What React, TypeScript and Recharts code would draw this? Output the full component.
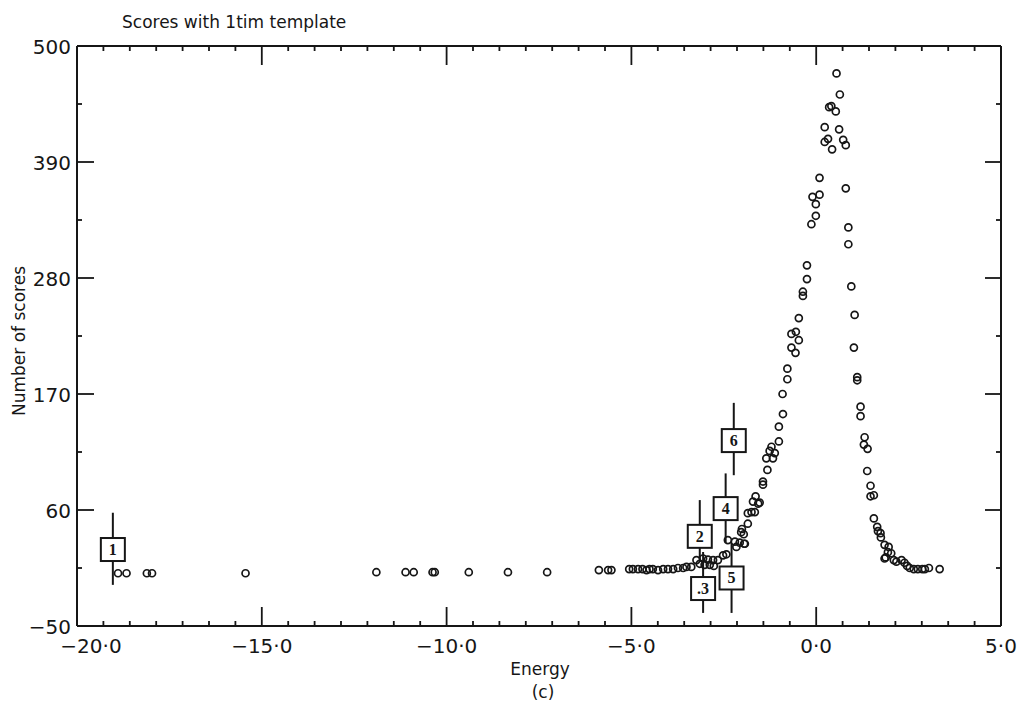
import { ScatterChart, Scatter, XAxis, YAxis, ErrorBar } from "recharts";

const FONT = "'DejaVu Sans', sans-serif";
const INK = "#161616";

// axis ticks
const xMajorTicks = [-20, -15, -10, -5, 0, 5];
const xTickLabels = ["−20·0", "−15·0", "−10·0", "−5·0", "0·0", "5·0"];
const yMajorTicks = [500, 390, 280, 170, 60, -50];
const yTickLabels = ["500", "390", "280", "170", "60", "−50"];
const yMinorTicks = [445, 335, 225, 115, 5];

// flat left tail of the distribution
const tailEnergy = [
  -18.89, -18.66, -18.11, -17.97, -15.44, -11.9, -11.11, -10.89, -10.38, -10.32,
  -9.4, -8.34, -7.28, -5.88, -5.63, -5.54, -5.06, -4.96, -4.82, -4.7,
  -4.59, -4.51, -4.42, -4.28, -4.14, -4.01, -3.87, -3.74, -3.6, -3.51,
];
const tailCount = [
  0, 0, 0, 0, 0, 1, 1, 1, 1, 1,
  1, 1, 1, 3, 3, 3, 4, 4, 4, 4,
  3, 4, 4, 3, 4, 4, 4, 5, 5, 6,
];

// rising flank
const riseEnergy = [
  -3.38, -3.24, -3.15, -3.06, -3.02, -2.93, -2.88, -2.79, -2.77, -2.66,
  -2.52, -2.43, -2.39, -2.2, -2.16, -2.07, -2.03, -2.01, -1.96, -1.95,
  -1.93, -1.85, -1.85, -1.75, -1.71, -1.66, -1.64, -1.57, -1.53, -1.44,
  -1.44, -1.35, -1.32, -1.26, -1.21, -1.17, -1.12, -1.01, -1.01, -0.91,
  -0.9, -0.78, -0.78, -0.67, -0.67, -0.56, -0.55, -0.47, -0.47, -0.36,
  -0.36, -0.25, -0.25, -0.13, -0.1, -0.01, -0.01, 0.09, 0.09,
];
const riseCount = [
  6, 12.5, 9, 14, 8, 13, 8, 12.5, 7, 12.5,
  17, 18, 31.5, 30, 25, 29, 39, 42, 37, 28,
  28, 47, 57, 58, 68, 58, 73, 66, 67, 87,
  84, 109, 98, 116, 120, 109, 114, 125, 139, 170,
  151, 194, 184, 227, 214, 209, 229, 221, 242, 263,
  267, 279, 292, 331, 357, 339, 350, 359, 375,
];

// top of the peak
const peakEnergy = [0.23, 0.23, 0.32, 0.43, 0.35, 0.41, 0.53, 0.55, 0.64, 0.62, 0.73, 0.8, 0.8];
const peakCount = [409, 423, 412, 402, 442, 443, 438, 474, 454, 421, 411, 406, 365];

// falling flank
const fallEnergy = [
  0.87, 0.87, 0.95, 1.04, 1.02, 1.11, 1.11, 1.2, 1.2, 1.29,
  1.31, 1.38, 1.39, 1.47, 1.47, 1.56, 1.56, 1.65, 1.67, 1.74,
  1.75, 1.85, 1.85, 1.88, 1.94, 1.96, 2.03, 2.1, 2.17, 2.31,
  2.39, 2.46, 2.53, 2.64, 2.75, 2.87, 2.94, 3.05, 3.34,
];
const fallCount = [
  328, 312, 272, 245, 214, 186, 183, 158, 149, 122,
  129, 97, 118, 83, 73, 74, 52, 44, 40, 38,
  34, 27, 14, 15, 20, 25, 19, 12.5, 11, 12.5,
  10, 7, 5, 4, 4, 4, 4, 5, 4,
];

// numbered markers with their vertical bars
const markerLabels = ["1", "2", ".3", "4", "5", "6"];
const markerEnergy = [-19.03, -3.15, -3.06, -2.45, -2.29, -2.23];
const markerCount = [23, 35.5, -14, 61.8, -4, 126.3];
const markerLow = [-11, 10.7, -37.6, 28.7, -37.6, 93];
const markerHigh = [57.4, 69.4, 20.2, 94.7, 28.7, 161.6];

const zip = (xs: number[], ys: number[]) => xs.map((x, i) => ({ x, y: ys[i] }));
const points = [
  ...zip(tailEnergy, tailCount),
  ...zip(riseEnergy, riseCount),
  ...zip(peakEnergy, peakCount),
  ...zip(fallEnergy, fallCount),
];
const markers = markerLabels.map((label, i) => ({
  label,
  x: markerEnergy[i],
  y: markerCount[i],
  err: [markerCount[i] - markerLow[i], markerHigh[i] - markerCount[i]],
}));

// six minor ticks between each pair of major x ticks
const xMinorTicks = xMajorTicks
  .slice(0, -1)
  .flatMap((m) => [1, 2, 3, 4, 5, 6].map((k) => m + (5 * k) / 7));
const xTicks = [...xMajorTicks, ...xMinorTicks];
const yTicks = [...yMajorTicks, ...yMinorTicks];

const tickStroke = { stroke: INK, strokeWidth: 1.8 };
const axisLine = { stroke: INK, strokeWidth: 2 };

function BottomTick({ x, y, payload }: any) {
  const i = xMajorTicks.indexOf(payload.value);
  const len = i >= 0 ? 19 : 5;
  const dx = payload.value === -20 ? 14 : 0;
  return (
    <g>
      <line x1={x} x2={x} y1={y} y2={y - len} {...tickStroke} />
      {i >= 0 && (
        <text x={x + dx} y={y + 27} textAnchor="middle" fontFamily={FONT} fontSize={20} fill={INK}>
          {xTickLabels[i]}
        </text>
      )}
    </g>
  );
}

function TopTick({ x, y, payload }: any) {
  const len = xMajorTicks.includes(payload.value) ? 19 : 5;
  return <line x1={x} x2={x} y1={y} y2={y + len} {...tickStroke} />;
}

function LeftTick({ x, y, payload }: any) {
  const i = yMajorTicks.indexOf(payload.value);
  const len = i >= 0 ? 17 : 5;
  return (
    <g>
      <line x1={x} x2={x + len} y1={y} y2={y} {...tickStroke} />
      {i >= 0 && (
        <text x={x - 6} y={y + 8} textAnchor="end" fontFamily={FONT} fontSize={20} fill={INK}>
          {yTickLabels[i]}
        </text>
      )}
    </g>
  );
}

function RightTick({ x, y, payload }: any) {
  const len = yMajorTicks.includes(payload.value) ? 16 : 5;
  return <line x1={x} x2={x - len} y1={y} y2={y} {...tickStroke} />;
}

const Ring = (p: any) => (
  <circle cx={p.cx} cy={p.cy} r={3.5} fill="none" stroke={INK} strokeWidth={1.7} />
);

const Empty = () => <g />;

function MarkerBox({ cx, cy, payload }: any) {
  return (
    <g>
      <rect x={cx - 12} y={cy - 11} width={24} height={23} fill="#fff" stroke={INK} strokeWidth={2} />
      <text
        x={cx}
        y={cy + 6}
        textAnchor="middle"
        fontFamily="'Liberation Serif', serif"
        fontWeight={700}
        fontSize={16}
        fill={INK}
      >
        {payload.label}
      </text>
    </g>
  );
}

export default function App() {
  return (
    <div style={{ position: "absolute", left: 0, top: 0, width: 1017, height: 710, background: "#fff" }}>
      <ScatterChart width={1017} height={710} margin={{ top: 0, right: 0, bottom: 0, left: 0 }}>
        <XAxis
          xAxisId="b"
          type="number"
          dataKey="x"
          domain={[-20, 5]}
          ticks={xTicks}
          interval={0}
          height={84}
          tickSize={0}
          tickMargin={0}
          tick={(p: any) => <BottomTick {...p} />}
          axisLine={axisLine}
          allowDataOverflow
        />
        <XAxis
          xAxisId="t"
          orientation="top"
          type="number"
          dataKey="x"
          domain={[-20, 5]}
          ticks={xTicks}
          interval={0}
          height={46}
          tickSize={0}
          tickMargin={0}
          tick={(p: any) => <TopTick {...p} />}
          axisLine={axisLine}
          allowDataOverflow
        />
        <YAxis
          yAxisId="l"
          type="number"
          dataKey="y"
          domain={[-50, 500]}
          ticks={yTicks}
          interval={0}
          width={77}
          tickSize={0}
          tickMargin={0}
          tick={(p: any) => <LeftTick {...p} />}
          axisLine={axisLine}
          allowDataOverflow
        />
        <YAxis
          yAxisId="r"
          orientation="right"
          type="number"
          dataKey="y"
          domain={[-50, 500]}
          ticks={yTicks}
          interval={0}
          width={16}
          tickSize={0}
          tickMargin={0}
          tick={(p: any) => <RightTick {...p} />}
          axisLine={axisLine}
          allowDataOverflow
        />
        <Scatter data={points} xAxisId="t" yAxisId="r" shape={Empty} isAnimationActive={false} />
        <Scatter data={points} xAxisId="b" yAxisId="l" shape={Ring} isAnimationActive={false} />
        <Scatter data={markers} xAxisId="b" yAxisId="l" shape={Empty} isAnimationActive={false}>
          <ErrorBar dataKey="err" direction="y" width={0} stroke={INK} strokeWidth={2} isAnimationActive={false} />
        </Scatter>
        <Scatter data={markers} xAxisId="b" yAxisId="l" shape={MarkerBox} isAnimationActive={false} />
      </ScatterChart>
      <svg
        width={1017}
        height={710}
        style={{ position: "absolute", left: 0, top: 0, pointerEvents: "none" }}
        fontFamily={FONT}
        fill={INK}
      >
        <text x={122} y={28} fontSize={17}>
          Scores with 1tim template
        </text>
        <text x={25} y={341} fontSize={17} textAnchor="middle" transform="rotate(-90 25 341)">
          Number of scores
        </text>
        <text x={540} y={675} fontSize={17} textAnchor="middle">
          Energy
        </text>
        <text x={543} y={698} fontSize={17} textAnchor="middle">
          (c)
        </text>
      </svg>
    </div>
  );
}
